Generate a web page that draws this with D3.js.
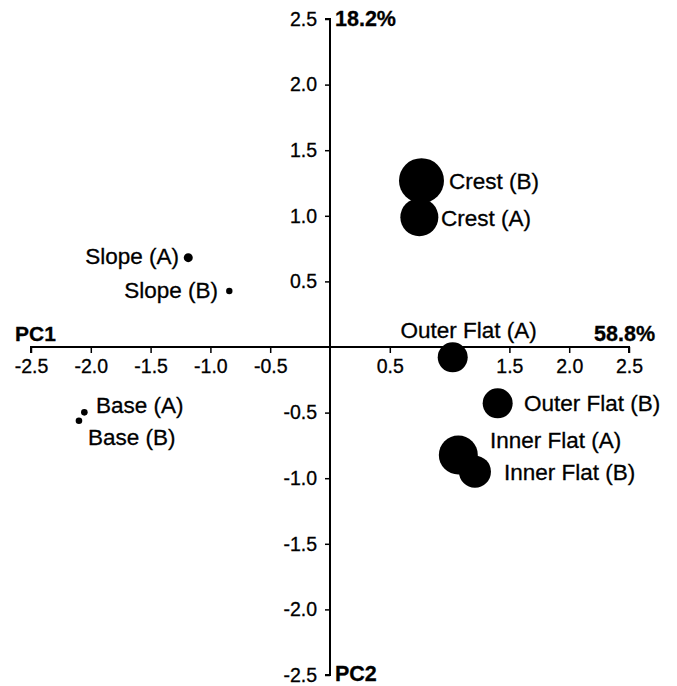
<!DOCTYPE html>
<html><head><meta charset="utf-8">
<script src="https://cdn.jsdelivr.net/npm/d3@7"></script>
<style>body{margin:0;background:#fff}svg{display:block}text{font-family:"Liberation Sans",Arial,sans-serif;fill:#000;stroke:#000;stroke-width:0.3px}</style>
</head><body>
<svg id="c" width="677" height="686"></svg>
<script>
// ---- data ----
const sites  = ["Crest (B)","Crest (A)","Slope (A)","Slope (B)","Base (A)","Base (B)","Outer Flat (A)","Outer Flat (B)","Inner Flat (A)","Inner Flat (B)"];
const pc1    = [0.765, 0.747, -1.185, -0.842, -2.054, -2.099, 1.026, 1.402, 1.073, 1.212];
const pc2    = [1.268, 0.989, 0.681, 0.427, -0.498, -0.562, -0.079, -0.429, -0.823, -0.950];
const magnitude = [22.5, 19, 4.5, 3.2, 3.3, 3.3, 15, 15, 19.5, 16];
const xTicks = [-2.5,-2,-1.5,-1,-0.5,0.5,1,1.5,2,2.5];
const xTickLabels = ["-2.5","-2.0","-1.5","-1.0","-0.5","0.5","","1.5","2.0","2.5"];
const yTicks = [-2.5,-2,-1.5,-1,-0.5,0.5,1,1.5,2,2.5];
const yTickLabels = ["-2.5","-2.0","-1.5","-1.0","-0.5","0.5","1.0","1.5","2.0","2.5"];
const axisTitles = {pc1:"PC1", pc1pct:"58.8%", pc2:"PC2", pc2pct:"18.2%"};

// label placement (styling)
const labelPlace = [
  {dx:27.5, dy:0, a:"start"},
  {dx:21.7, dy:1, a:"start"},
  {dx:-9.3, dy:-2, a:"end"},
  {dx:-11.3, dy:-1, a:"end"},
  {dx:11.7, dy:-7, a:"start"},
  {dx:9, dy:16, a:"start"},
  {dx:16, dy:-27, a:"middle"},
  {dx:26.3, dy:0, a:"start"},
  {dx:31.7, dy:-15, a:"start"},
  {dx:29, dy:0, a:"start"}
];

const svg = d3.select("#c");
const x = d3.scaleLinear().domain([-2.5,2.5]).range([31,629]);
const y = d3.scaleLinear().domain([-2.5,2.5]).range([675,19]);
const r = d3.scaleLinear().domain([0,25]).range([0,25]);

// x axis
const xa = svg.append("g").attr("transform",`translate(0,${y(0)})`)
  .call(d3.axisBottom(x).tickValues(xTicks).tickSize(6).tickPadding(6)
        .tickFormat((d,i)=>xTickLabels[i]));
xa.select(".domain").attr("stroke","#000").attr("stroke-width",2).attr("d",`M${x(-2.5)},6V0H${x(2.5)}V6`);
xa.selectAll(".tick line").attr("stroke","#000").attr("stroke-width",1.5);
xa.selectAll(".tick text").style("font-size","19.5px").attr("fill","#000");

// y axis
const ya = svg.append("g").attr("transform",`translate(${x(0)},0)`)
  .call(d3.axisLeft(y).tickValues(yTicks).tickSize(5).tickPadding(8)
        .tickFormat((d,i)=>yTickLabels[i]));
ya.select(".domain").attr("stroke","#000").attr("stroke-width",2).attr("d",`M-5,${y(2.5)}H0V${y(-2.5)}H-5`);
ya.selectAll(".tick line").attr("stroke","#000").attr("stroke-width",1.5);
ya.selectAll(".tick text").style("font-size","19.5px").attr("fill","#000");

// axis titles
svg.append("text").attr("x",15).attr("y",y(0)-6).text(axisTitles.pc1)
  .style("font-size","21px").style("font-weight","bold");
svg.append("text").attr("x",x(2.5)+26).attr("y",y(0)-6).attr("text-anchor","end").text(axisTitles.pc1pct)
  .style("font-size","21.5px").style("font-weight","bold");
svg.append("text").attr("x",x(0)+5).attr("y",y(2.5)+7).text(axisTitles.pc2pct)
  .style("font-size","21.5px").style("font-weight","bold");
svg.append("text").attr("x",x(0)+5).attr("y",y(-2.5)+6).text(axisTitles.pc2)
  .style("font-size","21.5px").style("font-weight","bold");

// points
const data = sites.map((s,i)=>({s, x:pc1[i], y:pc2[i], m:magnitude[i], p:labelPlace[i]}));
svg.append("g").selectAll("circle").data(data).join("circle")
  .attr("cx",d=>x(d.x)).attr("cy",d=>y(d.y)).attr("r",d=>r(d.m)).attr("fill","#000");
svg.append("g").selectAll("text").data(data).join("text")
  .attr("x",d=>x(d.x)+d.p.dx).attr("y",d=>y(d.y)+d.p.dy).attr("dy","0.35em")
  .attr("text-anchor",d=>d.p.a).style("font-size","22.5px").text(d=>d.s);
</script>
</body></html>
